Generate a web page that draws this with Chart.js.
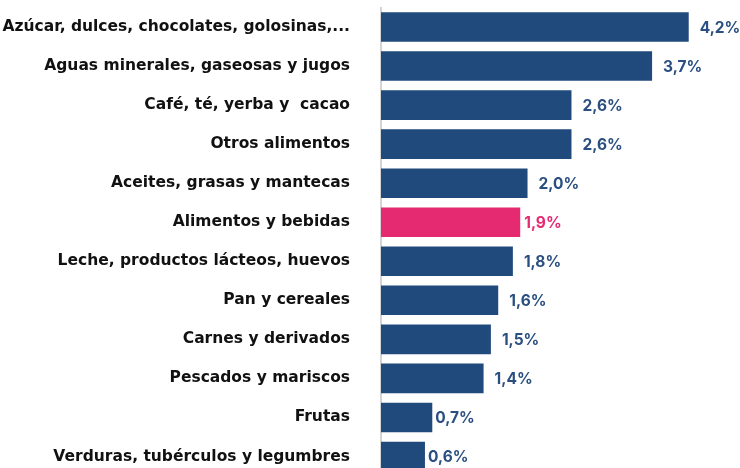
<!DOCTYPE html>
<html>
<head>
<meta charset="utf-8">
<script src="https://cdn.jsdelivr.net/npm/chart.js@4.4.1/dist/chart.umd.min.js"></script>
<style>
  html, body { margin: 0; padding: 0; background: #ffffff; overflow: hidden; width: 740px; height: 468px; }
  #wrap { position: relative; width: 740px; height: 468px; overflow: hidden; }
</style>
</head>
<body>
<div id="wrap"><canvas id="c" width="740" height="476"></canvas></div>
<script>
const categories = [
  "Azúcar, dulces, chocolates, golosinas,...",
  "Aguas minerales, gaseosas y jugos",
  "Café, té, yerba y  cacao",
  "Otros alimentos",
  "Aceites, grasas y mantecas",
  "Alimentos y bebidas",
  "Leche, productos lácteos, huevos",
  "Pan y cereales",
  "Carnes y derivados",
  "Pescados y mariscos",
  "Frutas",
  "Verduras, tubérculos y legumbres"
];
const values = [4.2, 3.7, 2.6, 2.6, 2.0, 1.9, 1.8, 1.6, 1.5, 1.4, 0.7, 0.6];
const highlightCategory = "Alimentos y bebidas";

const BLUE = "#214a7c";
const PINK = "#e62a72";
const FONT = "'DejaVu Sans', Inter, sans-serif";
const VFONT = "Inter, 'Open Sans', sans-serif";

const barColors = categories.map(c => c === highlightCategory ? PINK : BLUE);

const valueLabels = {
  id: "valueLabels",
  afterDatasetsDraw(chart) {
    const ctx = chart.ctx;
    const meta = chart.getDatasetMeta(0);
    ctx.save();
    ctx.font = "700 15.5px " + VFONT;
    ctx.textBaseline = "middle";
    ctx.textAlign = "left";
    meta.data.forEach((bar, i) => {
      const v = values[i];
      const hl = categories[i] === highlightCategory;
      const off = hl ? 4 : (v < 1 ? 3 : 11);
      ctx.fillStyle = hl ? PINK : "#2b4f80";
      ctx.fillText(v.toFixed(1).replace(".", ",") + "%", bar.x + off, bar.y + 1);
    });
    ctx.restore();
  }
};

new Chart(document.getElementById("c"), {
  type: "bar",
  data: {
    labels: categories,
    datasets: [{
      data: values,
      backgroundColor: barColors,
      borderWidth: 0,
      barPercentage: 0.757,
      categoryPercentage: 1
    }]
  },
  options: {
    indexAxis: "y",
    responsive: false,
    maintainAspectRatio: false,
    animation: false,
    layout: { padding: { top: 7.5, bottom: 0, left: 0, right: 0 } },
    plugins: { legend: { display: false }, tooltip: { enabled: false } },
    scales: {
      x: { display: false, min: 0, max: 4.9 },
      y: {
        afterFit(scale) { scale.width = 381; scale.paddingTop = 0; scale.paddingBottom = 0; },
        grid: { display: false, drawTicks: false },
        border: { display: true, color: "#d4d4d4", width: 2 },
        ticks: {
          color: "#111111",
          padding: 31,
          font: { family: FONT, size: 15.5, weight: "700" }
        }
      }
    }
  },
  plugins: [valueLabels]
});
</script>
</body>
</html>
